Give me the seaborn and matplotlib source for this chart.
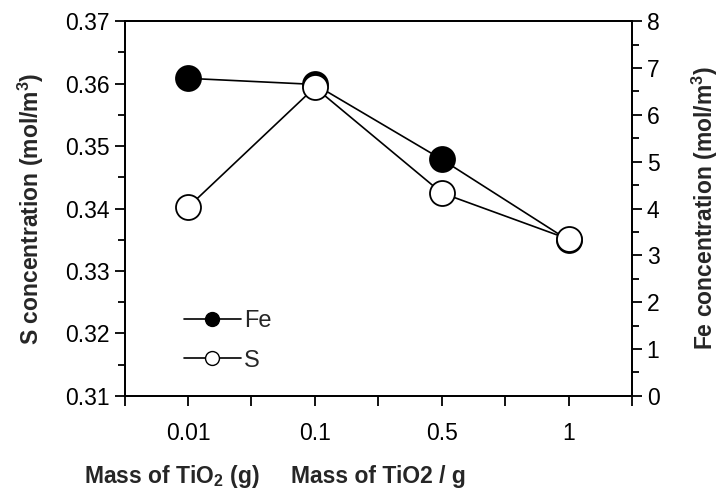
import numpy as np
import seaborn as sns
import matplotlib.pyplot as plt
from matplotlib.ticker import MultipleLocator
from matplotlib.lines import Line2D

# values
mass_labels = ['0.01', '0.1', '0.5', '1']
s_conc = [0.3402, 0.3594, 0.3425, 0.3351]
fe_conc = [6.78, 6.65, 5.05, 3.32]

sns.set_style("ticks")
plt.rcParams['font.family'] = ['Liberation Sans', 'DejaVu Sans']
plt.rcParams['mathtext.fontset'] = 'custom'
plt.rcParams['mathtext.rm'] = 'Liberation Sans'
plt.rcParams['mathtext.bf'] = 'Liberation Sans:bold'

fig, ax = plt.subplots(figsize=(7.24, 4.93), dpi=100)
fig.subplots_adjust(left=0.172, right=0.873, top=0.957, bottom=0.197)
ax2 = ax.twinx()

pos = np.arange(len(mass_labels))
mk = dict(marker='o', markersize=18, markeredgecolor='black', markeredgewidth=1.3,
          color='black', linewidth=1.2)

sns.lineplot(x=pos, y=fe_conc, ax=ax2, markerfacecolor='black', legend=False, **mk)
sns.lineplot(x=pos, y=s_conc, ax=ax, markerfacecolor='white', legend=False, **mk)

# S on top of Fe
ax.set_zorder(ax2.get_zorder() + 1)
ax.patch.set_visible(False)

ax.set_xlim(-0.5, 3.5)
ax.set_ylim(0.31, 0.37)
ax2.set_ylim(0, 8)
ax.set_xticks(np.arange(-0.5, 3.6, 0.5))
ax.set_xticklabels([''] + sum([[l, ''] for l in mass_labels], []))
ax.yaxis.set_major_locator(MultipleLocator(0.01))
ax.yaxis.set_minor_locator(MultipleLocator(0.005))
ax2.yaxis.set_major_locator(MultipleLocator(1))
ax2.yaxis.set_minor_locator(MultipleLocator(0.5))
ax.set_yticklabels([f'{v:.2f}' for v in ax.get_yticks()])

for a in (ax, ax2):
    for sp in a.spines.values():
        sp.set_linewidth(1.3)
        sp.set_color('black')
    a.tick_params(axis='both', which='major', length=7, width=1.3, labelsize=16.5,
                  color='black', labelcolor='black')
    a.tick_params(axis='both', which='minor', length=5, width=1.3, color='black')
ax.tick_params(axis='x', pad=12)

ax.set_ylabel('S concentration (mol/m$^\\mathbf{3}$)', fontsize=16.5, fontweight='bold', labelpad=14)
ax2.set_ylabel('Fe concentration (mol/m$^\\mathbf{3}$)', fontsize=16.5, fontweight='bold', labelpad=22)
ax.set_xlabel('Mass of TiO2 / g', fontsize=16.5, fontweight='bold', va='baseline')
ax.xaxis.set_label_coords(0.5, -0.232)
fig.text(0.238, 0.020, 'Mass of TiO$_\\mathbf{2}$ (g)', fontsize=16.5, fontweight='bold',
         ha='center', va='baseline')

handles = [
    Line2D([], [], color='black', lw=1.2, marker='o', markersize=10,
           markerfacecolor='black', markeredgecolor='black'),
    Line2D([], [], color='black', lw=1.2, marker='o', markersize=10,
           markerfacecolor='white', markeredgecolor='black'),
]
ax.legend(handles, ['Fe', 'S'], loc='lower left', bbox_to_anchor=(0.075, 0.008),
          frameon=False, fontsize=17, handlelength=2.4, handletextpad=0.15,
          labelspacing=0.75)

plt.savefig('out.png', dpi=100)
